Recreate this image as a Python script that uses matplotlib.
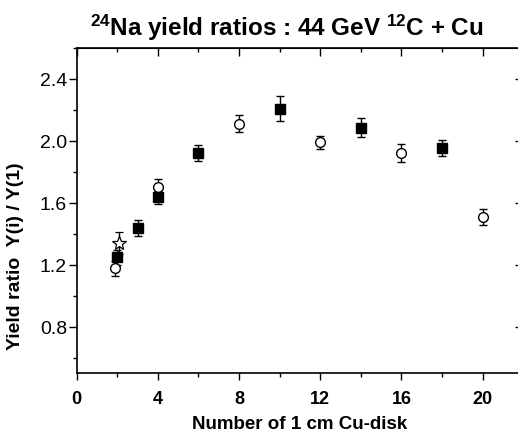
import numpy as np
import matplotlib
matplotlib.use("Agg")
from matplotlib import pyplot as plt
from matplotlib.ticker import MultipleLocator

plt.rcParams['font.family'] = ['Liberation Sans', 'DejaVu Sans']
plt.rcParams['mathtext.fontset'] = 'custom'
plt.rcParams['mathtext.rm'] = 'Liberation Sans:bold'
plt.rcParams['mathtext.bf'] = 'Liberation Sans:bold'
plt.rcParams['mathtext.default'] = 'rm'

# open circles
circ_x = [1.9, 4, 8, 12, 16, 20]
circ_y = [1.177, 1.70, 2.112, 1.990, 1.921, 1.508]
circ_err = [0.049, 0.053, 0.053, 0.043, 0.060, 0.051]

# filled squares
sq_x = [2.0, 3, 4, 6, 10, 14, 18]
sq_y = [1.248, 1.439, 1.636, 1.921, 2.208, 2.084, 1.955]
sq_err = [0.05, 0.051, 0.043, 0.051, 0.080, 0.062, 0.051]

# star
star_x = [2.1]
star_y = [1.34]
star_err = [0.07]

fig = plt.figure(figsize=(5.18, 4.35), dpi=100)
ax = fig.add_axes([0.148, 0.1395, 0.862, 0.748])

ax.errorbar(star_x, star_y, yerr=star_err, fmt='*', ms=10, mfc='white', mec='black',
            mew=0.9, ecolor='black', elinewidth=1, capsize=3, capthick=1, zorder=2)
ax.errorbar(sq_x, sq_y, yerr=sq_err, fmt='s', ms=6.5, mfc='black', mec='black',
            ecolor='black', elinewidth=1, capsize=3, capthick=1, zorder=3)
ax.errorbar(circ_x, circ_y, yerr=circ_err, fmt='o', ms=7, mfc='white', mec='black',
            mew=1, ecolor='black', elinewidth=1, capsize=3, capthick=1, zorder=3)

ax.set_xlim(0, 22)
ax.set_ylim(0.5, 2.6)
ax.xaxis.set_major_locator(MultipleLocator(4))
ax.xaxis.set_minor_locator(MultipleLocator(2))
ax.yaxis.set_major_locator(MultipleLocator(0.4))
ax.yaxis.set_minor_locator(MultipleLocator(0.2))
ax.yaxis.set_major_formatter(matplotlib.ticker.FormatStrFormatter('%.1f'))

for s in ax.spines.values():
    s.set_linewidth(1.2)

ax.tick_params(axis='x', which='both', direction='out', bottom=True, top=False)
ax.tick_params(axis='y', which='both', direction='out', left=True, right=False)
ax.tick_params(axis='x', which='major', length=5, width=1, labelsize=13, pad=7)
ax.tick_params(axis='x', which='minor', length=3, width=1)
ax.tick_params(axis='y', which='major', length=6, width=1, labelsize=14, pad=1)
ax.tick_params(axis='y', which='minor', length=3, width=1)
for lab in ax.get_xticklabels():
    lab.set_fontweight('bold')

# inward ticks on top and right
ax2 = ax.secondary_xaxis('top')
ax2.xaxis.set_major_locator(MultipleLocator(4))
ax2.xaxis.set_minor_locator(MultipleLocator(2))
ax2.tick_params(which='major', direction='in', length=6, width=1, labeltop=False)
ax2.tick_params(which='minor', direction='in', length=3, width=1)
ax3 = ax.secondary_yaxis('right')
ax3.yaxis.set_major_locator(MultipleLocator(0.4))
ax3.yaxis.set_minor_locator(MultipleLocator(0.2))
ax3.tick_params(which='major', direction='in', length=6, width=1, labelright=False)
ax3.tick_params(which='minor', direction='in', length=3, width=1)

ax.set_xlabel("Number of 1 cm Cu-disk", fontsize=13.5, fontweight='bold', labelpad=6)
ax.set_ylabel("Yield ratio  Y(i) / Y(1)", fontsize=14, fontweight='bold')
ax.yaxis.set_label_coords(-0.118, 0.364)

fig.text(0.553, 0.917, r"$^{24}$Na yield ratios : 44 GeV $^{12}$C + Cu",
         ha='center', va='baseline', fontsize=17.5, fontweight='bold')

fig.savefig("out.png", dpi=100)
